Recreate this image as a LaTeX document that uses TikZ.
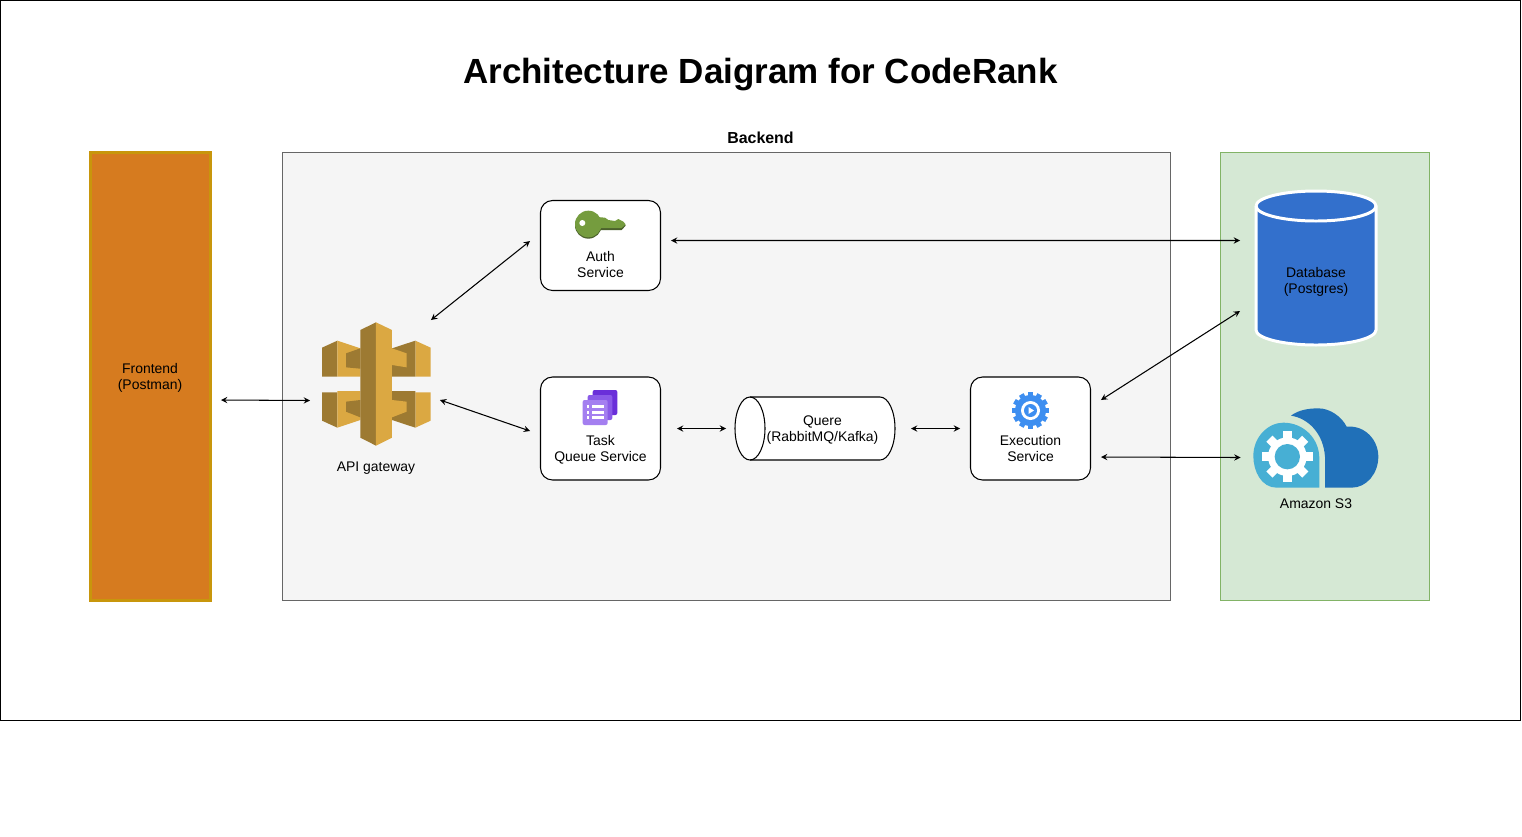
\documentclass[tikz,border=0pt]{standalone}
\usepackage{fontspec}
\setmainfont{Liberation Sans}
\usepackage{xcolor}
\usetikzlibrary{arrows}
\definecolor{frontorange}{HTML}{D67B1F}
\definecolor{frontedge}{HTML}{C8960C}
\definecolor{backfill}{HTML}{F5F5F5}
\definecolor{backedge}{HTML}{666666}
\definecolor{storefill}{HTML}{D5E8D4}
\definecolor{storeedge}{HTML}{82B366}
\definecolor{dbblue}{HTML}{3370CC}
\definecolor{apidark}{HTML}{9D7A32}
\definecolor{apilight}{HTML}{DBA842}
\definecolor{keygreen}{HTML}{759C3E}
\definecolor{keydark}{HTML}{4B612C}
\definecolor{gearblue}{HTML}{3D8EF0}
\definecolor{cloudlight}{HTML}{47AFD4}
\definecolor{clouddark}{HTML}{2070B8}
\definecolor{taskback}{HTML}{6A2FD9}
\definecolor{taskmid}{HTML}{8A5AE8}
\definecolor{taskfront}{HTML}{A47FF0}
\tikzset{
    biarrow/.style={<->, >=stealth, line width=0.6pt},
    txt/.style={font=\fontsize{7.94}{9.07}\selectfont, align=center, inner sep=0pt},
    panel/.style={draw, line width=0.6pt, inner sep=0pt, outer sep=0pt, minimum height=8.96cm},
    service/.style={draw, fill=white, line width=0.6pt, rounded corners=0.24cm,
                    inner sep=0pt, outer sep=0pt, minimum width=2.4cm},
    ghost/.style={inner sep=0pt, outer sep=0pt}
}
\begin{document}
\begin{tikzpicture}[x=0.02cm, y=-0.02cm]
    \useasboundingbox (0,0) rectangle (1522,836);
    % Outer frame
    \draw[fill=white, line width=0.6pt] (0.5,0.5) rectangle (1520.5,720.5);
    % Title
    \node[font=\bfseries\fontsize{19.9}{24}\selectfont, inner sep=0pt] (title) at (760.5,75)
        {Architecture Daigram for CodeRank};
    % Panels
    \node[panel, draw=frontedge, line width=1.7pt, fill=frontorange, minimum width=2.42cm] (front) at (150.5,376.5) {};
    \node[panel, draw=backedge, fill=backfill, minimum width=17.76cm] (back) at (726.5,376.5) {};
    \node[panel, draw=storeedge, fill=storefill, minimum width=4.18cm] (store) at (1325,376.5) {};
    \node[txt] (fronttext) at (150,377.5) {Frontend\\(Postman)};
    \node[font=\bfseries\fontsize{9.07}{11}\selectfont, inner sep=0pt] (backtext) at (760.5,138) {Backend};
    % API gateway icon
    \node[ghost, minimum width=2.2cm, minimum height=2.48cm] (api) at (376,384) {};
    \begin{scope}[shift={(300,310)}, x=0.00667cm, y=-0.00667cm]
        \fill[apidark] (66,113) -- (112,92) -- (112,200) -- (66,200) -- cycle;
        \fill[apilight] (112,92) -- (181,115) -- (181,200) -- (112,200) -- cycle;
        \fill[apidark] (138,130) -- (181,115) -- (181,176) -- (138,172) -- cycle;
        \fill[apidark] (66,247) -- (112,247) -- (112,353) -- (66,332) -- cycle;
        \fill[apilight] (112,243) -- (181,243) -- (181,330) -- (112,353) -- cycle;
        \fill[apidark] (138,275) -- (181,270) -- (181,322) -- (138,305) -- cycle;
        \fill[apilight] (392,113) -- (346,92) -- (346,200) -- (392,200) -- cycle;
        \fill[apidark] (346,92) -- (276,115) -- (276,200) -- (346,200) -- cycle;
        \fill[apilight] (320,130) -- (276,115) -- (276,165) -- (320,172) -- cycle;
        \fill[apilight] (392,247) -- (346,247) -- (346,353) -- (392,332) -- cycle;
        \fill[apidark] (346,243) -- (276,243) -- (276,330) -- (346,353) -- cycle;
        \fill[apilight] (320,275) -- (276,270) -- (276,322) -- (320,305) -- cycle;
        % Central column
        \fill[apidark] (228,37) -- (181,60) -- (181,383) -- (228,407) -- cycle;
        \fill[apilight] (228,37) -- (276,60) -- (276,383) -- (228,407) -- cycle;
    \end{scope}
    \node[txt] (apitext) at (376,468.5) {API gateway};
    % Services
    \node[service, minimum height=1.8cm] (auth) at (600.5,245.5) {};
    \node[service, minimum height=2.06cm] (task) at (600.5,428.5) {};
    \node[service, minimum height=2.06cm] (exec) at (1030.5,428.5) {};
    \node[txt] (authtext) at (600.5,264.5) {Auth\hspace{3.5pt}\\Service};
    \node[txt] (tasktext) at (600.5,450) {Task\\Queue Service};
    \node[txt] (exectext) at (1030.5,448.5) {Execution\\Service};
    % Key icon
    \begin{scope}[shift={(540,195)}, x=0.00667cm, y=-0.00667cm]
        \fill[keydark] (145,91) circle (40);
        \fill[keydark] (160,70) -- (195,72) -- (205,79) -- (225,82) -- (235,76) -- (250,84) -- (257,92) -- (245,105) -- (160,105) -- cycle;
        \fill[keygreen] (145,87) circle (40);
        \fill[keygreen] (160,65) -- (195,68) -- (205,75) -- (225,78) -- (235,72) -- (250,80) -- (257,88) -- (245,99) -- (160,99) -- cycle;
        \fill[white] (127,84) circle (9);
    \end{scope}
    % Task icon
    \begin{scope}[shift={(540,375)}, x=0.00667cm, y=-0.00667cm]
        \fill[rounded corners=0.04cm, taskback] (158,45) rectangle (232,120);
        \fill[rounded corners=0.04cm, taskmid] (143,60) rectangle (217,135);
        \fill[rounded corners=0.04cm, taskfront] (128,75) rectangle (203,150);
        \foreach \row in {95,112,128} {
            \fill[white] (140,\row-4) rectangle (148,\row+4);
            \fill[white] (155,\row-4) rectangle (192,\row+4);
        }
    \end{scope}
    % Gear icon
    \begin{scope}[shift={(1030.5,410.5)}]
        \fill[gearblue] (0,0) circle (15.5);
        \foreach \angle in {0,30,...,330} {
            \fill[gearblue, rotate=\angle] (-2.6,-18.5) rectangle (2.6,0);
        }
        \fill[white] (0,0) circle (9.5);
        \fill[gearblue] (0,0) circle (6.5);
        \fill[white] (-2,-3.5) -- (3.5,0) -- (-2,3.5) -- cycle;
    \end{scope}
    % Queue cylinder
    \node[ghost, minimum width=3.2cm, minimum height=1.26cm] (queue) at (815,428.5) {};
    \draw[fill=white, line width=0.6pt] (750,397) -- (880,397) arc[start angle=90, end angle=-90, x radius=15, y radius=-31.5]
        -- (750,460) arc[start angle=270, end angle=90, x radius=15, y radius=-31.5];
    \draw[line width=0.6pt] (750,397) arc[start angle=90, end angle=-90, x radius=15, y radius=-31.5];
    \node[txt] (queuetext) at (822.5,430.5) {Quere\\(RabbitMQ/Kafka)};
    % Database cylinder
    \node[ghost, minimum width=2.4cm, minimum height=3.08cm] (db) at (1316,268) {};
    \draw[white, fill=dbblue, line width=1.7pt] (1256,206) -- (1256,330) arc[start angle=180, end angle=360, x radius=60, y radius=-15]
        -- (1376,206) arc[start angle=0, end angle=180, x radius=60, y radius=-15];
    \draw[white, line width=1.7pt] (1256,206) arc[start angle=180, end angle=360, x radius=60, y radius=-15];
    \node[txt] (dbtext) at (1316,281.5) {Database\\(Postgres)};
    % S3 icon
    \node[ghost, minimum width=2.5cm, minimum height=1.6cm] (s3) at (1316,448) {};
    \begin{scope}[shift={(1240,400)}, x=0.00667cm, y=-0.00667cm]
        \fill[clouddark] (255,263) -- (255,170) .. controls (250,100) and (205,55) .. (153,47)
            .. controls (175,30) and (205,25) .. (235,25) .. controls (270,25) and (305,50) .. (320,80)
            .. controls (375,75) and (415,120) .. (415,170) .. controls (415,220) and (380,263) .. (335,263) -- cycle;
        \fill[cloudlight] (238,263) -- (110,263) .. controls (65,263) and (40,215) .. (40,168)
            .. controls (40,110) and (85,68) .. (130,68) .. controls (190,68) and (238,115) .. (238,175) -- cycle;
        \fill[white] (142,170) circle (58);
        \foreach \angle in {0,45,...,315} {
            \fill[white, shift={(142,170)}, rotate=\angle] (-13,-76) rectangle (13,0);
        }
        \fill[cloudlight] (142,170) circle (38);
    \end{scope}
    \node[txt] (s3text) at (1316,504) {Amazon S3};
    % Connectors
    \draw[biarrow] ([shift={(10,23.5)}]front.east) -- ([shift={(-11,16.5)}]api.west);
    \draw[biarrow] ([shift={(0,-2)}]api.north east) -- ([shift={(-10.5,-4.5)}]auth.west);
    \draw[biarrow] ([shift={(9,16)}]api.east) -- ([shift={(-10.5,2.5)}]task.west);
    \draw[biarrow] ([shift={(10.5,-5)}]auth.east) -- ([shift={(-16,-27.5)}]db.west);
    \draw[biarrow] ([shift={(16.5,0)}]task.east) -- ([shift={(-9,0)}]queue.west);
    \draw[biarrow] ([shift={(16,0)}]queue.east) -- ([shift={(-10.5,0)}]exec.west);
    \draw[biarrow] ([shift={(10.5,-28.5)}]exec.east) -- ([shift={(-16,43)}]db.west);
    \draw[biarrow] ([shift={(10.5,28.5)}]exec.east) -- ([shift={(-13,9.5)}]s3.west);
\end{tikzpicture}
\end{document}
